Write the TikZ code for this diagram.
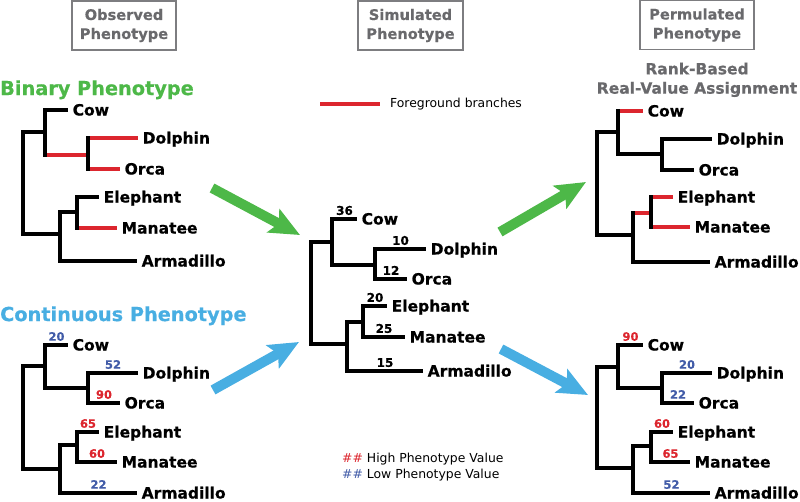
\documentclass[tikz,border=0pt]{standalone}
\usepackage{fontspec}
\setmainfont{DejaVu Sans}
\newfontfamily\heavy{DejaVu Sans}[UprightFont={* Bold}, FakeBold=0.5]
\usetikzlibrary{arrows.meta}
\definecolor{fgred}{RGB}{220,38,46}
\definecolor{grn}{RGB}{77,184,72}
\definecolor{lblue}{RGB}{72,174,226}
\definecolor{lowblue}{RGB}{66,92,168}
\definecolor{hdrgray}{RGB}{105,105,108}
\definecolor{boxgray}{RGB}{125,125,128}
\newcommand\leaffont{\heavy\fontsize{15.5}{18}\selectfont}
\newcommand\numfont{\heavy\fontsize{11.5}{13}\selectfont}
\newcommand\mnumfont{\heavy\fontsize{12}{14}\selectfont}
\newcommand\hdrfont{\heavy\fontsize{14.6}{19}\selectfont}
\newcommand\titlefont{\heavy\fontsize{19.3}{22}\selectfont}
\newcommand\rbfont{\heavy\fontsize{15.5}{19}\selectfont}
\newcommand\legfont{\fontsize{12.4}{15}\selectfont}
\tikzset{
  br/.style={line width=4pt, draw=black},
  fg/.style={line width=4pt, draw=fgred},
  vt/.style={line width=4pt, line cap=rect, draw=black},
  leaf/.style={anchor=west, inner xsep=4.5pt, inner ysep=0pt, font=\leaffont, text height=11pt, text depth=0pt},
  num/.style={inner sep=0pt, font=\numfont, text height=8.4pt, text depth=0pt, yshift=8.5pt},
  mnum/.style={num, font=\mnumfont, text height=8.7pt, text=black},
  hi/.style={text=fgred},
  lo/.style={text=lowblue},
  hdr/.style={draw=boxgray, line width=1.6pt, text=hdrgray, font=\hdrfont, align=center, minimum height=49pt, inner sep=0pt},
  bigarrow/.style={line width=10pt, -{Stealth[length=30pt,width=26pt,inset=6pt]}},
  title/.style={anchor=west, inner sep=0pt, font=\titlefont, text height=14.1pt, text depth=0pt},
  rb/.style={inner sep=0pt, font=\rbfont, text=hdrgray, text height=11.3pt, text depth=0pt},
  leg/.style={anchor=west, inner sep=0pt, font=\legfont, text height=9pt, text depth=0pt}
}
\begin{document}
\begin{tikzpicture}[x=1pt,y=-1pt]
\useasboundingbox (0,0) rectangle (800,501);

% ---------- headers ----------
\node[hdr, minimum width=104pt] (hObs) at (124,25.5) {Observed\\Phenotype};
\node[hdr, minimum width=105pt] (hSim) at (410.5,25.5) {Simulated\\Phenotype};
\node[hdr, minimum width=114pt] (hPer) at (697,25) {Permulated\\Phenotype};
\node[title, text=grn] (tBin) at (0,88) {Binary Phenotype};
\node[title, text=lblue] (tCon) at (0,314) {Continuous Phenotype};
\node[rb] (rb1) at (697,68.7) {Rank-Based};
\node[rb] (rb2) at (697,88) {Real-Value Assignment};

% ---------- legends ----------
\coordinate (lg1) at (320,104);
\coordinate (lg2) at (380,104);
\draw[fg] (lg1) -- (lg2);
\node[leg] (lgt) at (390,102.5) {Foreground branches};
\node[leg] (lgh) at (342,458.3) {\textcolor{fgred}{\#\#} High Phenotype Value};
\node[leg] (lgl) at (342,474) {\textcolor{lowblue}{\#\#} Low Phenotype Value};

% ---------- binary tree ----------
\coordinate (bR) at (23,183);
\coordinate (bA) at (45,132);
\coordinate (bB) at (88,155);
\coordinate (bC) at (60,234);
\coordinate (bD) at (77,212);
\node[leaf] (bCow) at (68,110) {Cow};
\node[leaf] (bDol) at (138,138) {Dolphin};
\node[leaf] (bOrc) at (120,169) {Orca};
\node[leaf] (bEle) at (99,197) {Elephant};
\node[leaf] (bMan) at (117,228) {Manatee};
\node[leaf] (bArm) at (137,261) {Armadillo};
\draw[br] (bR |- bA) -- (bA);
\draw[br] (bA |- bCow.west) -- (bCow.west);
\draw[fg] (bA |- bB) -- (bB);
\draw[fg] (bB |- bDol.west) -- (bDol.west);
\draw[fg] (bB |- bOrc.west) -- (bOrc.west);
\draw[br] (bR |- bC) -- (bC);
\draw[br] (bC |- bD) -- (bD);
\draw[br] (bD |- bEle.west) -- (bEle.west);
\draw[fg] (bD |- bMan.west) -- (bMan.west);
\draw[br] (bC |- bArm.west) -- (bArm.west);
\draw[vt] (bR |- bA) -- (bR |- bC);
\draw[vt] (bA |- bCow.west) -- (bA |- bB);
\draw[vt] (bB |- bDol.west) -- (bB |- bOrc.west);
\draw[vt] (bC |- bD) -- (bC |- bArm.west);
\draw[vt] (bD |- bEle.west) -- (bD |- bMan.west);

% ---------- continuous tree ----------
\coordinate (cR) at (23,417);
\coordinate (cA) at (45,366);
\coordinate (cB) at (88,388);
\coordinate (cC) at (60,469);
\coordinate (cD) at (77,445);
\node[leaf] (cCow) at (68,345) {Cow};
\node[leaf] (cDol) at (138,373) {Dolphin};
\node[leaf] (cOrc) at (120,403) {Orca};
\node[leaf] (cEle) at (99,432) {Elephant};
\node[leaf] (cMan) at (117,462) {Manatee};
\node[leaf] (cArm) at (137,493) {Armadillo};
\draw[br] (cR |- cA) -- (cA);
\draw[br] (cA |- cCow.west) -- (cCow.west) node[num, lo, midway] (cCowN) {20};
\draw[br] (cA |- cB) -- (cB);
\draw[br] (cB |- cDol.west) -- (cDol.west) node[num, lo, midway] (cDolN) {52};
\draw[br] (cB |- cOrc.west) -- (cOrc.west) node[num, hi, midway] (cOrcN) {90};
\draw[br] (cR |- cC) -- (cC);
\draw[br] (cC |- cD) -- (cD);
\draw[br] (cD |- cEle.west) -- (cEle.west) node[num, hi, midway] (cEleN) {65};
\draw[br] (cD |- cMan.west) -- (cMan.west) node[num, hi, midway] (cManN) {60};
\draw[br] (cC |- cArm.west) -- (cArm.west) node[num, lo, midway] (cArmN) {22};
\draw[vt] (cR |- cA) -- (cR |- cC);
\draw[vt] (cA |- cCow.west) -- (cA |- cB);
\draw[vt] (cB |- cDol.west) -- (cB |- cOrc.west);
\draw[vt] (cC |- cD) -- (cC |- cArm.west);
\draw[vt] (cD |- cEle.west) -- (cD |- cMan.west);

% ---------- middle (simulated) tree ----------
\coordinate (mR) at (311,293);
\coordinate (mA) at (332,242);
\coordinate (mB) at (375,265);
\coordinate (mC) at (347,344);
\coordinate (mD) at (363,322);
\node[leaf] (mCow) at (357,219) {Cow};
\node[leaf] (mDol) at (426,249) {Dolphin};
\node[leaf] (mOrc) at (407,279) {Orca};
\node[leaf] (mEle) at (387,306) {Elephant};
\node[leaf] (mMan) at (405,337) {Manatee};
\node[leaf] (mArm) at (423,371) {Armadillo};
\draw[br] (mR |- mA) -- (mA);
\draw[br] (mA |- mCow.west) -- (mCow.west) node[mnum, midway] (mCowN) {36};
\draw[br] (mA |- mB) -- (mB);
\draw[br] (mB |- mDol.west) -- (mDol.west) node[mnum, midway] (mDolN) {10};
\draw[br] (mB |- mOrc.west) -- (mOrc.west) node[mnum, midway] (mOrcN) {12};
\draw[br] (mR |- mC) -- (mC);
\draw[br] (mC |- mD) -- (mD);
\draw[br] (mD |- mEle.west) -- (mEle.west) node[mnum, midway] (mEleN) {20};
\draw[br] (mD |- mMan.west) -- (mMan.west) node[mnum, midway] (mManN) {25};
\draw[br] (mC |- mArm.west) -- (mArm.west) node[mnum, midway] (mArmN) {15};
\draw[vt] (mR |- mA) -- (mR |- mC);
\draw[vt] (mA |- mCow.west) -- (mA |- mB);
\draw[vt] (mB |- mDol.west) -- (mB |- mOrc.west);
\draw[vt] (mC |- mD) -- (mC |- mArm.west);
\draw[vt] (mD |- mEle.west) -- (mD |- mMan.west);

% ---------- right top (permulated binary) tree ----------
\coordinate (pR) at (597,183);
\coordinate (pA) at (618,132);
\coordinate (pB) at (662,154);
\coordinate (pC) at (633,235);
\coordinate (pD) at (651,213);
\node[leaf] (pCow) at (643,111) {Cow};
\node[leaf] (pDol) at (712,139) {Dolphin};
\node[leaf] (pOrc) at (694,170) {Orca};
\node[leaf] (pEle) at (673,197) {Elephant};
\node[leaf] (pMan) at (690,227) {Manatee};
\node[leaf] (pArm) at (710,262) {Armadillo};
\draw[br] (pR |- pA) -- (pA);
\draw[fg] (pA |- pCow.west) -- (pCow.west);
\draw[br] (pA |- pB) -- (pB);
\draw[br] (pB |- pDol.west) -- (pDol.west);
\draw[br] (pB |- pOrc.west) -- (pOrc.west);
\draw[br] (pR |- pC) -- (pC);
\draw[fg] (pC |- pD) -- (pD);
\draw[fg] (pD |- pEle.west) -- (pEle.west);
\draw[fg] (pD |- pMan.west) -- (pMan.west);
\draw[br] (pC |- pArm.west) -- (pArm.west);
\draw[vt] (pR |- pA) -- (pR |- pC);
\draw[vt] (pA |- pCow.west) -- (pA |- pB);
\draw[vt] (pB |- pDol.west) -- (pB |- pOrc.west);
\draw[vt] (pC |- pD) -- (pC |- pArm.west);
\draw[vt] (pD |- pEle.west) -- (pD |- pMan.west);

% ---------- right bottom (permulated continuous) tree ----------
\coordinate (qR) at (597,417);
\coordinate (qA) at (618,367);
\coordinate (qB) at (662,388);
\coordinate (qC) at (633,468);
\coordinate (qD) at (651,446);
\node[leaf] (qCow) at (643,345) {Cow};
\node[leaf] (qDol) at (712,373) {Dolphin};
\node[leaf] (qOrc) at (694,403) {Orca};
\node[leaf] (qEle) at (673,432) {Elephant};
\node[leaf] (qMan) at (690,462) {Manatee};
\node[leaf] (qArm) at (710,493) {Armadillo};
\draw[br] (qR |- qA) -- (qA);
\draw[br] (qA |- qCow.west) -- (qCow.west) node[num, hi, midway] (qCowN) {90};
\draw[br] (qA |- qB) -- (qB);
\draw[br] (qB |- qDol.west) -- (qDol.west) node[num, lo, midway] (qDolN) {20};
\draw[br] (qB |- qOrc.west) -- (qOrc.west) node[num, lo, midway] (qOrcN) {22};
\draw[br] (qR |- qC) -- (qC);
\draw[br] (qC |- qD) -- (qD);
\draw[br] (qD |- qEle.west) -- (qEle.west) node[num, hi, midway] (qEleN) {60};
\draw[br] (qD |- qMan.west) -- (qMan.west) node[num, hi, midway] (qManN) {65};
\draw[br] (qC |- qArm.west) -- (qArm.west) node[num, lo, midway] (qArmN) {52};
\draw[vt] (qR |- qA) -- (qR |- qC);
\draw[vt] (qA |- qCow.west) -- (qA |- qB);
\draw[vt] (qB |- qDol.west) -- (qB |- qOrc.west);
\draw[vt] (qC |- qD) -- (qC |- qArm.west);
\draw[vt] (qD |- qEle.west) -- (qD |- qMan.west);

% ---------- block arrows ----------
\coordinate (g1s) at (212,188);
\coordinate (g1e) at (300,235);
\coordinate (b1s) at (213,390);
\coordinate (b1e) at (299,342);
\coordinate (g2s) at (500,232);
\coordinate (g2e) at (586,182);
\coordinate (b2s) at (501,349);
\coordinate (b2e) at (588,395);
\draw[bigarrow, draw=grn, fill=grn] (g1s) -- (g1e);
\draw[bigarrow, draw=lblue, fill=lblue] (b1s) -- (b1e);
\draw[bigarrow, draw=grn, fill=grn] (g2s) -- (g2e);
\draw[bigarrow, draw=lblue, fill=lblue] (b2s) -- (b2e);
\end{tikzpicture}
\end{document}
